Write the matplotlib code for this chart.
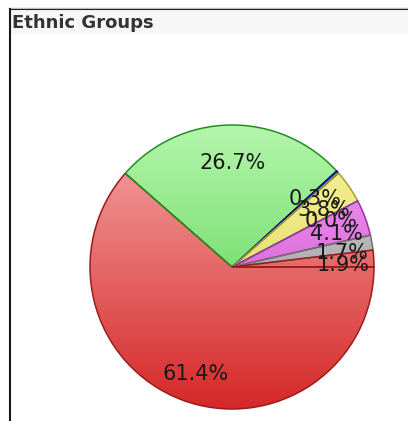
import matplotlib
matplotlib.use('Agg')
import matplotlib.pyplot as plt
from matplotlib.colors import to_rgb
import numpy as np

# ── Data ────────────────────────────────────────────────────────────────────
GROUPS = ["Group A", "Group B", "Group C", "Group D",
          "Group E", "Group F", "Group G", "Group H"]
SHARES = [61.4, 26.7, 0.3, 3.8, 0.0, 4.1, 1.7, 1.9]
LABELS = ["61.4%", "26.7%", "0.3%", "3.8%", "0.0%", "4.1%", "1.7%", "1.9%"]

# ── Style (gradient top / bottom, edge) ──────────────────────────────────────
TOP  = ["#f5a8a8", "#b4f6ac", "#8080ff", "#f8f4a0", "#a0f8f8", "#f4a0f4", "#d0d0d0", "#f5a8a8"]
BOT  = ["#d62828", "#48cc40", "#1010b0", "#d8d040", "#30c0c0", "#c840c8", "#909090", "#d62828"]
EDGE = ["#9b1c1c", "#209020", "#000080", "#a0a030", "#30a0a0", "#a030a0", "#707070", "#9b1c1c"]

W, H = 408, 421
CX, CY, R = 232, H - 267, 142

fig = plt.figure(figsize=(W / 100, H / 100), dpi=100)
fig.patch.set_facecolor("white")
ax = fig.add_axes([0, 0, 1, 1])

wedges, texts = ax.pie(SHARES, labels=LABELS, startangle=0, counterclock=False,
                       center=(CX, CY), radius=R, labeldistance=0.77,
                       wedgeprops=dict(linewidth=1.1),
                       textprops=dict(fontsize=15, color="#1a1a1a"))

ax.set_xlim(0, W)
ax.set_ylim(0, H)
ax.set_aspect("auto")
ax.axis("off")

for w, top, bot, ec in zip(wedges, TOP, BOT, EDGE):
    t = np.linspace(0, 1, 256)[:, None, None]
    grad = (1 - t) * np.array(to_rgb(top)) + t * np.array(to_rgb(bot))
    im = ax.imshow(grad, extent=(CX - R, CX + R, CY - R, CY + R),
                   origin="upper", aspect="auto", zorder=1, interpolation="bilinear")
    im.set_clip_path(w)
    w.set_facecolor("none")
    w.set_edgecolor(ec)
    w.set_zorder(2)

# labels sit a touch below the mid-angle point in the original
for t in texts:
    x, y = t.get_position()
    t.set_position((x + 2, y - 5))
    t.set_ha("center")
    t.set_va("center")
    t.set_zorder(3)

# ── Frame and title band ────────────────────────────────────────────────────
ax.add_patch(plt.Rectangle((10, H - 34), W - 10, 25, facecolor="#f7f7f7",
                           edgecolor="none", zorder=0))
ax.plot([10, W], [H - 9, H - 9], color="#1a1a1a", linewidth=1.5, zorder=4)
ax.plot([10, W], [H - 7.5, H - 7.5], color="#bbbbbb", linewidth=0.8, zorder=4)
ax.plot([10, 10], [0, H - 9], color="#1a1a1a", linewidth=1.5, zorder=4)
ax.text(12, H - 23, "Ethnic Groups", ha="left", va="center", fontsize=13,
        fontweight="bold", color="#333333", zorder=5)

fig.savefig("out.png", dpi=100, facecolor="white")
plt.close(fig)
